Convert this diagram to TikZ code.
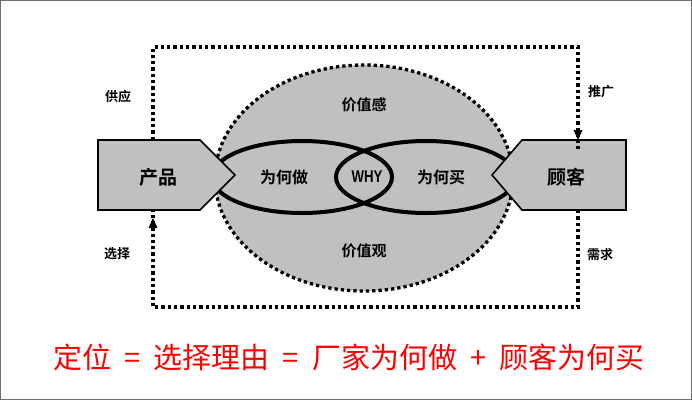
\documentclass[tikz,border=0pt]{standalone}
\usepackage{fontspec}
\setmainfont{Noto Sans CJK SC}[BoldFont={Noto Sans CJK SC Bold}]
\newfontfamily\latinb{Liberation Sans}
\usetikzlibrary{arrows.meta}
\definecolor{fillgray}{HTML}{C0C0C0}
\definecolor{framegray}{HTML}{6E6E6E}
\newcommand{\gapsp}{\hspace{13pt}}
\begin{document}
\begin{tikzpicture}[x=1pt,y=-1pt,
  dotline/.style={line width=3.3pt, dash pattern=on 3.3pt off 3pt},
  boxshape/.style={draw=black, line width=1.6pt, fill=fillgray, line join=miter},
  lens/.style={draw=black, line width=4pt},
  bigtxt/.style={font=\fontsize{19}{20}\selectfont\bfseries, inner sep=0pt},
  midtxt/.style={font=\fontsize{16}{18}\selectfont\bfseries, inner sep=0pt},
  smalltxt/.style={font=\fontsize{13}{15}\selectfont\bfseries, inner sep=0pt}
]
\useasboundingbox (0,0) rectangle (692,400);
\draw[framegray, line width=1.2pt] (0.6,0.6) rectangle (691.4,399.4);

% big value ellipse
\draw[dotline, fill=fillgray] (364,178) ellipse [x radius=149, y radius=113];
% lens ellipses
\draw[lens] (302,177) ellipse [x radius=90, y radius=36];
\draw[lens] (426,177) ellipse [x radius=90, y radius=36];

% product and customer shapes
\draw[boxshape] (98,140) -- (200,140) -- (235,175) -- (200,210) -- (98,210) -- cycle;
\draw[boxshape] (626,140) -- (522,140) -- (492,175) -- (522,210) -- (626,210) -- cycle;

\coordinate (ptop) at (153,140);
\coordinate (pbot) at (153,218);
\coordinate (ctop) at (578,140);
\coordinate (cbot) at (578,210);
\coordinate (tl) at (153,47);
\coordinate (tr) at (578,47);
\coordinate (bl) at (153,307);
\coordinate (br) at (578,307);

\draw[dotline] (ptop) -- (tl) -- (tr) -- ([yshift=-9pt]ctop);
\fill (ctop) -- ++(-4.5,-10) -- ++(9,0) -- cycle;
\draw[dotline] (cbot) -- (br) -- (bl) -- ([yshift=9pt]pbot);
\fill (pbot) -- ++(-4.5,10) -- ++(9,0) -- cycle;

% texts
\node[bigtxt] (prod) at (158,177) {产品};
\node[bigtxt] (cust) at (566,177) {顾客};
\node[midtxt] (why1) at (284,177) {为何做};
\node[midtxt] (why2) at (441,177) {为何买};
\node[inner sep=0pt, font=\latinb\fontsize{17}{18}\selectfont\bfseries, xscale=0.78] (why) at (367,177) {WHY};
\node[midtxt, font=\fontsize{15}{17}\selectfont\bfseries] (vs) at (364,105) {价值感};
\node[midtxt, font=\fontsize{15}{17}\selectfont\bfseries] (vg) at (364,251) {价值观};
\node[smalltxt] (l1) at (118,97) {供应};
\node[smalltxt] (l2) at (601,92) {推广};
\node[smalltxt] (l3) at (117,254) {选择};
\node[smalltxt] (l4) at (600,255) {需求};
\node[text=red, inner sep=0pt, font=\fontsize{29}{32}\selectfont] (bottom) at (349,357) {定位\gapsp=\gapsp 选择理由\gapsp=\gapsp 厂家为何做\gapsp+\gapsp 顾客为何买};
\end{tikzpicture}
\end{document}
